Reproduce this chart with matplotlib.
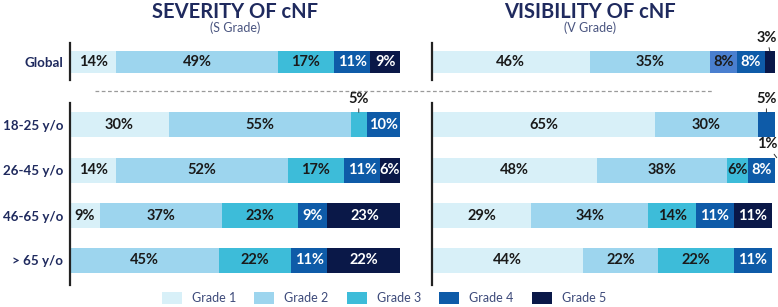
import numpy as np
import matplotlib.pyplot as plt
from matplotlib.patches import Patch
from matplotlib.lines import Line2D

plt.rcParams['font.family'] = ['Lato', 'DejaVu Sans']

rows = ['Global', '18-25 y/o', '26-45 y/o', '46-65 y/o', '> 65 y/o']
grades = ['Grade 1', 'Grade 2', 'Grade 3', 'Grade 4', 'Grade 5']

# percent per grade (columns) for each row
severity = [
    [14, 49, 17, 11, 9],
    [30, 55, 5, 10, 0],
    [14, 52, 17, 11, 6],
    [9, 37, 23, 9, 23],
    [0, 45, 22, 11, 22],
]
visibility = [
    [46, 35, 8, 8, 3],
    [65, 30, 0, 5, 0],
    [48, 38, 6, 8, 1],
    [29, 34, 14, 11, 11],
    [44, 22, 22, 11, 0],
]

colors = ['#d8f0f8', '#9dd5ee', '#3dbcd9', '#0e5ba8', '#0a1848']
text_colors = ['#1a1a1a', '#1a1a1a', '#1a1a1a', 'white', 'white']
navy = '#1f2a5e'

W, H = 778, 307
fig = plt.figure(figsize=(W / 100, H / 100), dpi=100)

y_pos = [0, 1.4, 2.41, 3.42, 4.41]
heights = [0.48, 0.56, 0.56, 0.56, 0.56]


def px_axes(x0, x1, y0, y1):
    return fig.add_axes([x0 / W, 1 - y1 / H, (x1 - x0) / W, (y1 - y0) / H])


def draw_panel(ax, data, show_labels, width_px, odd_color=None):
    data = np.array(data)
    for i in range(len(rows)):
        left = 0
        for g in range(len(grades)):
            v = data[i, g]
            if v == 0:
                continue
            c = colors[g]
            if odd_color and (i, g) == odd_color[0]:
                c = odd_color[1]
            ax.barh(y_pos[i], v, left=left, height=heights[i], color=c, edgecolor='none')
            cx = left + v / 2
            if v <= 5:
                # small segment: label above with a leader line, kept inside the panel
                dx = (min(cx, 97.6) - cx) * width_px / 100 * 0.72
                ax.annotate(f'{v}%', xy=(cx, y_pos[i] - heights[i] / 2), xytext=(dx, 4.5),
                            textcoords='offset points', ha='center', va='bottom',
                            fontsize=10.5, fontweight='bold', color='#1a1a1a',
                            annotation_clip=False,
                            arrowprops=dict(arrowstyle='-', lw=0.7, color='#333333',
                                            shrinkA=0, shrinkB=0))
            else:
                ax.text(cx, y_pos[i], f'{v}%', ha='center', va='center', fontsize=10.5,
                        fontweight='bold', color=text_colors[g])
            left += v
    ax.set_xlim(0, 100)
    ax.set_ylim(4.96, -0.42)
    for s in ax.spines.values():
        s.set_visible(False)
    ax.set_xticks([])
    ax.plot([0, 0], [-0.42, 0.4], color='#222222', lw=1.6, clip_on=False)
    ax.plot([0, 0], [0.91, 4.96], color='#222222', lw=1.6, clip_on=False)
    if show_labels:
        ax.set_yticks(y_pos)
        ax.set_yticklabels(rows, fontsize=9.6, fontweight='bold', color=navy)
        ax.tick_params(axis='y', length=0, pad=5)
    else:
        ax.set_yticks([])


ax1 = px_axes(70, 400, 43, 285)
draw_panel(ax1, severity, True, 330)
ax2 = px_axes(432, 775, 43, 285)
# the global grade 3 visibility segment is drawn in a different blue
draw_panel(ax2, visibility, False, 343, odd_color=((0, 2), '#4a7fcf'))

# titles
fig.text(235 / W, 1 - 12 / H, 'SEVERITY OF cNF', ha='center', va='center',
         fontsize=14.5, fontweight='bold', color=navy)
fig.text(235 / W, 1 - 28 / H, '(S Grade)', ha='center', va='center', fontsize=9, color='#4a5580')
fig.text(590 / W, 1 - 12 / H, 'VISIBILITY OF cNF', ha='center', va='center',
         fontsize=14.5, fontweight='bold', color=navy)
fig.text(590 / W, 1 - 28 / H, '(V Grade)', ha='center', va='center', fontsize=9, color='#4a5580')

# dashed separator
fig.add_artist(Line2D([95 / W, 713 / W], [1 - 91 / H, 1 - 91 / H], color='#9a9a9a',
                      lw=0.9, linestyle=(0, (3, 2))))

handles = [Patch(facecolor=c, edgecolor='none', label=g) for c, g in zip(colors, grades)]
fig.legend(handles=handles, loc='center', bbox_to_anchor=(384 / W, 1 - 298 / H), ncol=5,
           frameon=False, fontsize=9, handlelength=1.6, handleheight=1.2,
           handletextpad=0.8, columnspacing=1.45, labelcolor='#3d4a7a')

plt.savefig('out.png', dpi=100)
